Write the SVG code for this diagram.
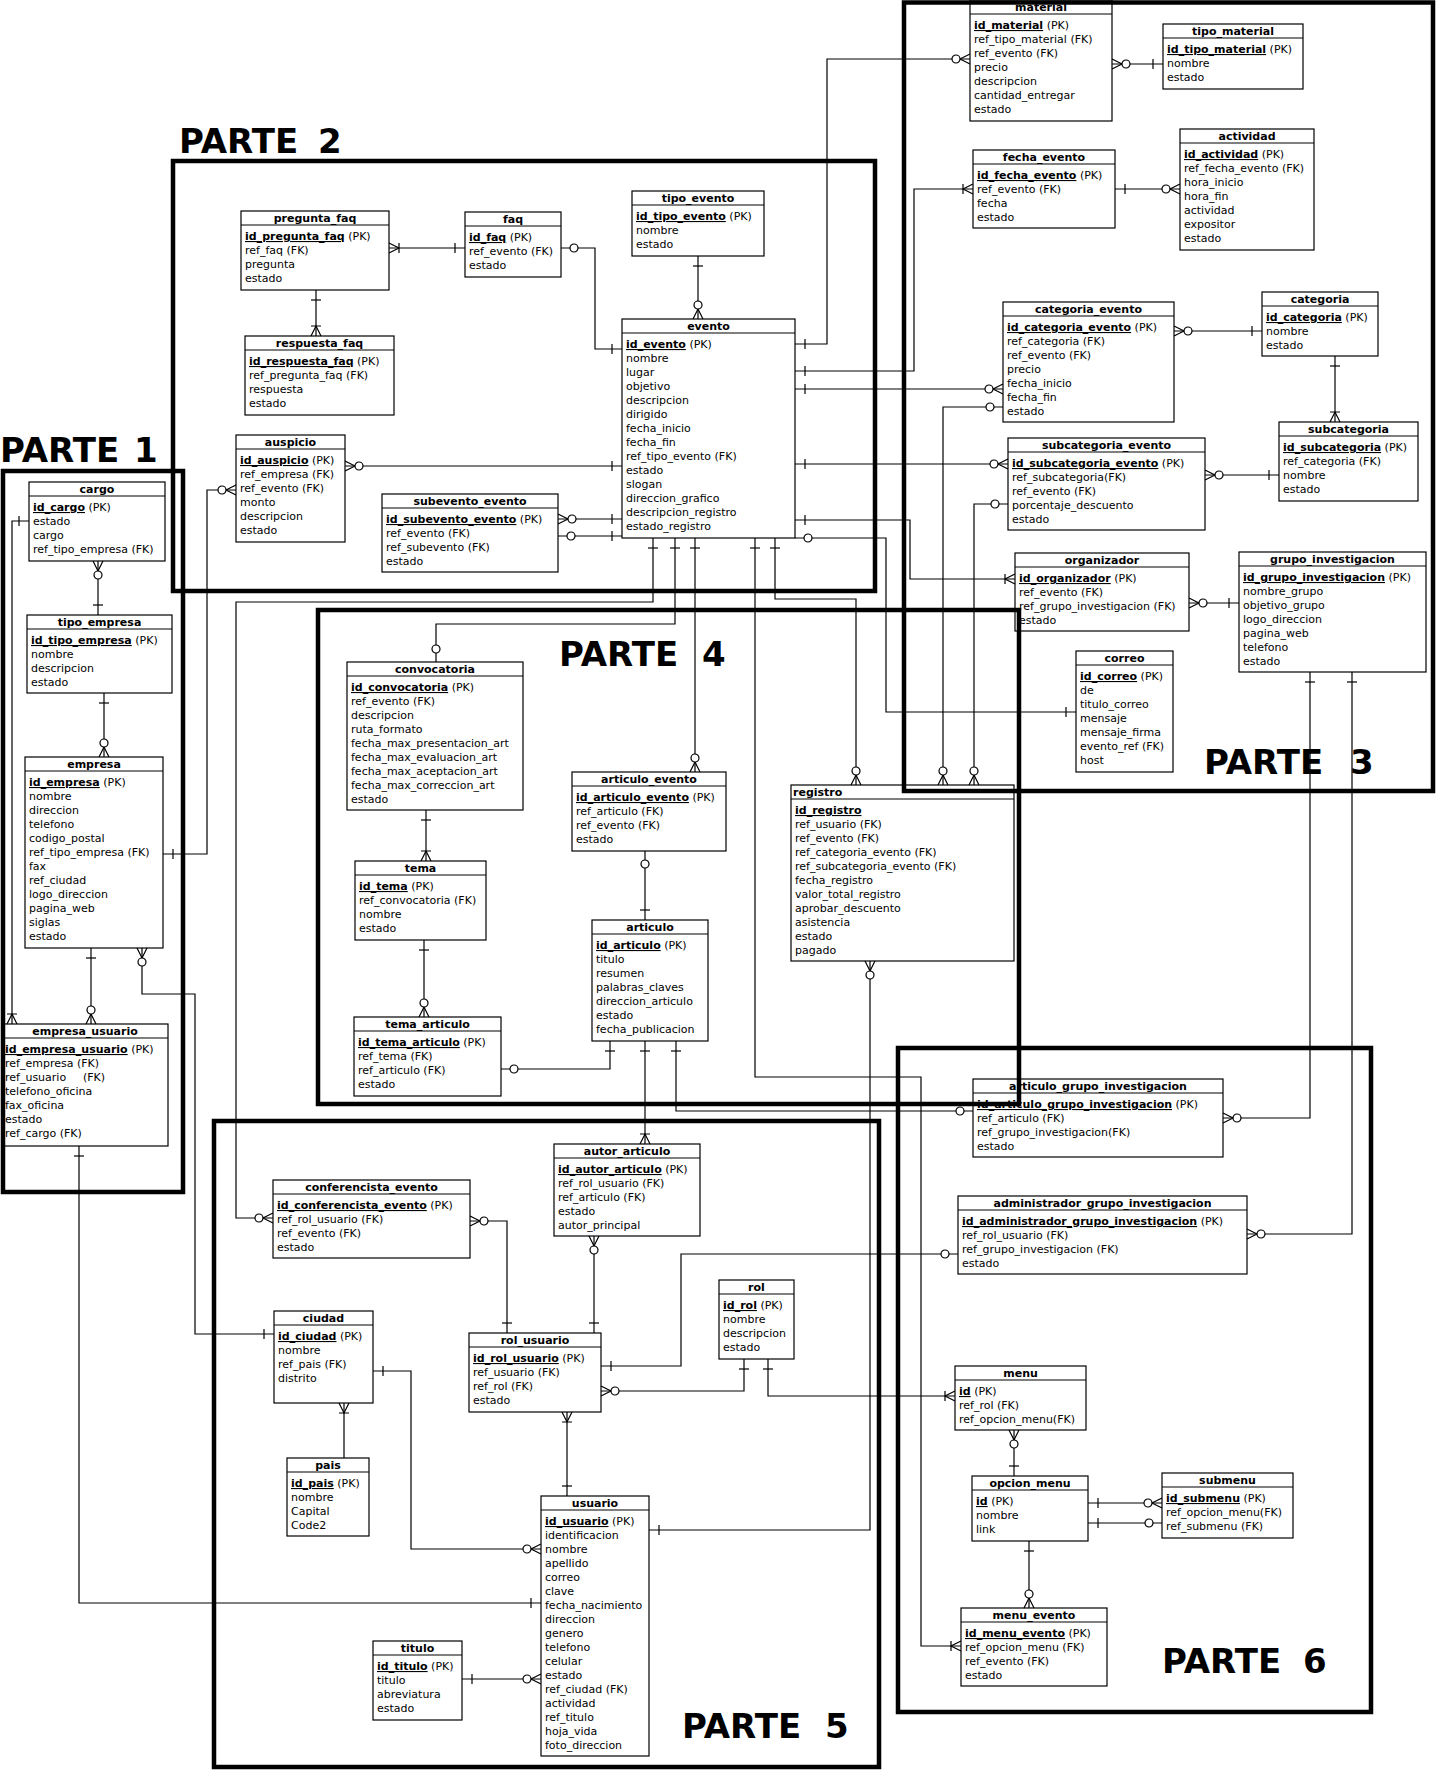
<svg xmlns="http://www.w3.org/2000/svg" xmlns:xlink="http://www.w3.org/1999/xlink" width="1436" height="1772" viewBox="0 0 1436 1772">
<style>
.bx{fill:#fff;stroke:#000;stroke-width:1.2}
.hl{stroke:#000;stroke-width:1.2}
.t{font-family:"DejaVu Sans",Verdana,sans-serif;font-size:11px;font-weight:bold;text-anchor:middle}
.tl{font-family:"DejaVu Sans",Verdana,sans-serif;font-size:11px;font-weight:bold}
.r{font-family:"DejaVu Sans",Verdana,sans-serif;font-size:11px}
.k{font-weight:bold;text-decoration:underline}
.c{fill:none;stroke:#000;stroke-width:1.2}
.s{fill:none;stroke:#000;stroke-width:1.2}
.fr{fill:none;stroke:#000;stroke-width:4.5}
.p{font-family:"DejaVu Sans",Verdana,sans-serif;font-size:34px;font-weight:bold}
</style>
<defs>
<g id="one" class="s"><path d="M10,-5V5"/></g>
<g id="zm" class="s"><path d="M0,-5L10,0L0,5"/><circle cx="14" cy="0" r="4" fill="#fff"/></g>
<g id="om" class="s"><path d="M0,-5L10,0L0,5M10,-5V5"/></g>
<g id="zo" class="s"><circle cx="13" cy="0" r="4" fill="#fff"/></g>
</defs>
<rect width="1436" height="1772" fill="#fff"/>

<g id="connectors">
<path class="c" d="M389,248H465"/>
<path class="c" d="M316,290V336"/>
<path class="c" d="M561,248H595V349H622"/>
<path class="c" d="M698,256V319"/>
<path class="c" d="M795,344H827V59H970"/>
<path class="c" d="M795,371H914V189H973"/>
<path class="c" d="M795,389H1003"/>
<path class="c" d="M943,785V407H1003"/>
<path class="c" d="M795,464H1008"/>
<path class="c" d="M974,785V504H1008"/>
<path class="c" d="M795,520H910V579H1015"/>
<path class="c" d="M795,538H886V712H1076"/>
<path class="c" d="M345,466H622"/>
<path class="c" d="M558,519H622"/>
<path class="c" d="M558,536H622"/>
<path class="c" d="M653,538V602H236V1218H273"/>
<path class="c" d="M675,538V624H436V662"/>
<path class="c" d="M695,538V772"/>
<path class="c" d="M755,538V1077H921V1646H961"/>
<path class="c" d="M775,538V599H856V785"/>
<path class="c" d="M163,854H207V490H236"/>
<path class="c" d="M98,561V615"/>
<path class="c" d="M104,693V757"/>
<path class="c" d="M91,948V1024"/>
<path class="c" d="M142,948V994H195V1334H274"/>
<path class="c" d="M29,521H12V1024"/>
<path class="c" d="M79,1146V1603H541"/>
<path class="c" d="M426,810V861"/>
<path class="c" d="M424,940V1017"/>
<path class="c" d="M501,1069H610V1041"/>
<path class="c" d="M645,851V920"/>
<path class="c" d="M645,1041V1144"/>
<path class="c" d="M676,1041V1111H973"/>
<path class="c" d="M870,961V1530H649"/>
<path class="c" d="M1112,64H1163"/>
<path class="c" d="M1115,189H1180"/>
<path class="c" d="M1174,331H1262"/>
<path class="c" d="M1335,356V422"/>
<path class="c" d="M1205,475H1279"/>
<path class="c" d="M1189,603H1239"/>
<path class="c" d="M1310,672V1118H1223"/>
<path class="c" d="M1352,672V1234H1247"/>
<path class="c" d="M958,1254H681V1366H601"/>
<path class="c" d="M768,1359V1396H955"/>
<path class="c" d="M744,1359V1391H601"/>
<path class="c" d="M1014,1430V1476"/>
<path class="c" d="M1088,1503H1162"/>
<path class="c" d="M1088,1523H1162"/>
<path class="c" d="M1029,1541V1608"/>
<path class="c" d="M470,1221H507V1333"/>
<path class="c" d="M594,1236V1333"/>
<path class="c" d="M567,1412V1496"/>
<path class="c" d="M373,1371H411V1549H541"/>
<path class="c" d="M344,1403V1458"/>
<path class="c" d="M462,1679H541"/>
</g>

<g id="tables">
<g id="pregunta_faq"><rect class="bx" x="241" y="211" width="148" height="79"/><line class="hl" x1="241" y1="225" x2="389" y2="225"/><text class="t" x="315" y="222">pregunta_faq</text><text class="r" x="245" y="240"><tspan class="k">id_pregunta_faq</tspan> (PK)<tspan x="245" dy="14">ref_faq (FK)</tspan><tspan x="245" dy="14">pregunta</tspan><tspan x="245" dy="14">estado</tspan></text></g>
<g id="respuesta_faq"><rect class="bx" x="245" y="336" width="149" height="79"/><line class="hl" x1="245" y1="350" x2="394" y2="350"/><text class="t" x="319.5" y="347">respuesta_faq</text><text class="r" x="249" y="365"><tspan class="k">id_respuesta_faq</tspan> (PK)<tspan x="249" dy="14">ref_pregunta_faq (FK)</tspan><tspan x="249" dy="14">respuesta</tspan><tspan x="249" dy="14">estado</tspan></text></g>
<g id="faq"><rect class="bx" x="465" y="212" width="96" height="65"/><line class="hl" x1="465" y1="226" x2="561" y2="226"/><text class="t" x="513" y="223">faq</text><text class="r" x="469" y="241"><tspan class="k">id_faq</tspan> (PK)<tspan x="469" dy="14">ref_evento (FK)</tspan><tspan x="469" dy="14">estado</tspan></text></g>
<g id="tipo_evento"><rect class="bx" x="632" y="191" width="132" height="65"/><line class="hl" x1="632" y1="205" x2="764" y2="205"/><text class="t" x="698" y="202">tipo_evento</text><text class="r" x="636" y="220"><tspan class="k">id_tipo_evento</tspan> (PK)<tspan x="636" dy="14">nombre</tspan><tspan x="636" dy="14">estado</tspan></text></g>
<g id="evento"><rect class="bx" x="622" y="319" width="173" height="219"/><line class="hl" x1="622" y1="333" x2="795" y2="333"/><text class="t" x="708.5" y="330">evento</text><text class="r" x="626" y="348"><tspan class="k">id_evento</tspan> (PK)<tspan x="626" dy="14">nombre</tspan><tspan x="626" dy="14">lugar</tspan><tspan x="626" dy="14">objetivo</tspan><tspan x="626" dy="14">descripcion</tspan><tspan x="626" dy="14">dirigido</tspan><tspan x="626" dy="14">fecha_inicio</tspan><tspan x="626" dy="14">fecha_fin</tspan><tspan x="626" dy="14">ref_tipo_evento (FK)</tspan><tspan x="626" dy="14">estado</tspan><tspan x="626" dy="14">slogan</tspan><tspan x="626" dy="14">direccion_grafico</tspan><tspan x="626" dy="14">descripcion_registro</tspan><tspan x="626" dy="14">estado_registro</tspan></text></g>
<g id="auspicio"><rect class="bx" x="236" y="435" width="109" height="107"/><line class="hl" x1="236" y1="449" x2="345" y2="449"/><text class="t" x="290.5" y="446">auspicio</text><text class="r" x="240" y="464"><tspan class="k">id_auspicio</tspan> (PK)<tspan x="240" dy="14">ref_empresa (FK)</tspan><tspan x="240" dy="14">ref_evento (FK)</tspan><tspan x="240" dy="14">monto</tspan><tspan x="240" dy="14">descripcion</tspan><tspan x="240" dy="14">estado</tspan></text></g>
<g id="subevento_evento"><rect class="bx" x="382" y="494" width="176" height="78"/><line class="hl" x1="382" y1="508" x2="558" y2="508"/><text class="t" x="470" y="505">subevento_evento</text><text class="r" x="386" y="523"><tspan class="k">id_subevento_evento</tspan> (PK)<tspan x="386" dy="14">ref_evento (FK)</tspan><tspan x="386" dy="14">ref_subevento (FK)</tspan><tspan x="386" dy="14">estado</tspan></text></g>
<g id="cargo"><rect class="bx" x="29" y="482" width="136" height="79"/><line class="hl" x1="29" y1="496" x2="165" y2="496"/><text class="t" x="97" y="493">cargo</text><text class="r" x="33" y="511"><tspan class="k">id_cargo</tspan> (PK)<tspan x="33" dy="14">estado</tspan><tspan x="33" dy="14">cargo</tspan><tspan x="33" dy="14">ref_tipo_empresa (FK)</tspan></text></g>
<g id="tipo_empresa"><rect class="bx" x="27" y="615" width="145" height="78"/><line class="hl" x1="27" y1="629" x2="172" y2="629"/><text class="t" x="99.5" y="626">tipo_empresa</text><text class="r" x="31" y="644"><tspan class="k">id_tipo_empresa</tspan> (PK)<tspan x="31" dy="14">nombre</tspan><tspan x="31" dy="14">descripcion</tspan><tspan x="31" dy="14">estado</tspan></text></g>
<g id="empresa"><rect class="bx" x="25" y="757" width="138" height="191"/><line class="hl" x1="25" y1="771" x2="163" y2="771"/><text class="t" x="94" y="768">empresa</text><text class="r" x="29" y="786"><tspan class="k">id_empresa</tspan> (PK)<tspan x="29" dy="14">nombre</tspan><tspan x="29" dy="14">direccion</tspan><tspan x="29" dy="14">telefono</tspan><tspan x="29" dy="14">codigo_postal</tspan><tspan x="29" dy="14">ref_tipo_empresa (FK)</tspan><tspan x="29" dy="14">fax</tspan><tspan x="29" dy="14">ref_ciudad</tspan><tspan x="29" dy="14">logo_direccion</tspan><tspan x="29" dy="14">pagina_web</tspan><tspan x="29" dy="14">siglas</tspan><tspan x="29" dy="14">estado</tspan></text></g>
<g id="empresa_usuario"><rect class="bx" x="2" y="1024" width="166" height="122"/><line class="hl" x1="2" y1="1038" x2="168" y2="1038"/><text class="t" x="85" y="1035">empresa_usuario</text><text class="r" x="5" y="1053"><tspan class="k">id_empresa_usuario</tspan> (PK)<tspan x="5" dy="14">ref_empresa (FK)</tspan><tspan x="5" dy="14">ref_usuario</tspan><tspan x="83">(FK)</tspan><tspan x="5" dy="14">telefono_oficina</tspan><tspan x="5" dy="14">fax_oficina</tspan><tspan x="5" dy="14">estado</tspan><tspan x="5" dy="14">ref_cargo (FK)</tspan></text></g>
<g id="convocatoria"><rect class="bx" x="347" y="662" width="176" height="148"/><line class="hl" x1="347" y1="676" x2="523" y2="676"/><text class="t" x="435" y="673">convocatoria</text><text class="r" x="351" y="691"><tspan class="k">id_convocatoria</tspan> (PK)<tspan x="351" dy="14">ref_evento (FK)</tspan><tspan x="351" dy="14">descripcion</tspan><tspan x="351" dy="14">ruta_formato</tspan><tspan x="351" dy="14">fecha_max_presentacion_art</tspan><tspan x="351" dy="14">fecha_max_evaluacion_art</tspan><tspan x="351" dy="14">fecha_max_aceptacion_art</tspan><tspan x="351" dy="14">fecha_max_correccion_art</tspan><tspan x="351" dy="14">estado</tspan></text></g>
<g id="tema"><rect class="bx" x="355" y="861" width="131" height="79"/><line class="hl" x1="355" y1="875" x2="486" y2="875"/><text class="t" x="420.5" y="872">tema</text><text class="r" x="359" y="890"><tspan class="k">id_tema</tspan> (PK)<tspan x="359" dy="14">ref_convocatoria (FK)</tspan><tspan x="359" dy="14">nombre</tspan><tspan x="359" dy="14">estado</tspan></text></g>
<g id="tema_articulo"><rect class="bx" x="354" y="1017" width="147" height="79"/><line class="hl" x1="354" y1="1031" x2="501" y2="1031"/><text class="t" x="427.5" y="1028">tema_articulo</text><text class="r" x="358" y="1046"><tspan class="k">id_tema_articulo</tspan> (PK)<tspan x="358" dy="14">ref_tema  (FK)</tspan><tspan x="358" dy="14">ref_articulo (FK)</tspan><tspan x="358" dy="14">estado</tspan></text></g>
<g id="articulo_evento"><rect class="bx" x="572" y="772" width="154" height="79"/><line class="hl" x1="572" y1="786" x2="726" y2="786"/><text class="t" x="649" y="783">articulo_evento</text><text class="r" x="576" y="801"><tspan class="k">id_articulo_evento</tspan> (PK)<tspan x="576" dy="14">ref_articulo (FK)</tspan><tspan x="576" dy="14">ref_evento (FK)</tspan><tspan x="576" dy="14">estado</tspan></text></g>
<g id="articulo"><rect class="bx" x="592" y="920" width="116" height="121"/><line class="hl" x1="592" y1="934" x2="708" y2="934"/><text class="t" x="650" y="931">articulo</text><text class="r" x="596" y="949"><tspan class="k">id_articulo</tspan> (PK)<tspan x="596" dy="14">titulo</tspan><tspan x="596" dy="14">resumen</tspan><tspan x="596" dy="14">palabras_claves</tspan><tspan x="596" dy="14">direccion_articulo</tspan><tspan x="596" dy="14">estado</tspan><tspan x="596" dy="14">fecha_publicacion</tspan></text></g>
<g id="registro"><rect class="bx" x="791" y="785" width="223" height="176"/><line class="hl" x1="791" y1="799" x2="1014" y2="799"/><text class="tl" x="793" y="796">registro</text><text class="r" x="795" y="814"><tspan class="k">id_registro</tspan><tspan x="795" dy="14">ref_usuario (FK)</tspan><tspan x="795" dy="14">ref_evento (FK)</tspan><tspan x="795" dy="14">ref_categoria_evento (FK)</tspan><tspan x="795" dy="14">ref_subcategoria_evento (FK)</tspan><tspan x="795" dy="14">fecha_registro</tspan><tspan x="795" dy="14">valor_total_registro</tspan><tspan x="795" dy="14">aprobar_descuento</tspan><tspan x="795" dy="14">asistencia</tspan><tspan x="795" dy="14">estado</tspan><tspan x="795" dy="14">pagado</tspan></text></g>
<g id="material"><rect class="bx" x="970" y="0" width="142" height="121"/><line class="hl" x1="970" y1="14" x2="1112" y2="14"/><text class="t" x="1041" y="11">material</text><text class="r" x="974" y="29"><tspan class="k">id_material</tspan> (PK)<tspan x="974" dy="14">ref_tipo_material (FK)</tspan><tspan x="974" dy="14">ref_evento (FK)</tspan><tspan x="974" dy="14">precio</tspan><tspan x="974" dy="14">descripcion</tspan><tspan x="974" dy="14">cantidad_entregar</tspan><tspan x="974" dy="14">estado</tspan></text></g>
<g id="tipo_material"><rect class="bx" x="1163" y="24" width="140" height="65"/><line class="hl" x1="1163" y1="38" x2="1303" y2="38"/><text class="t" x="1233" y="35">tipo_material</text><text class="r" x="1167" y="53"><tspan class="k">id_tipo_material</tspan> (PK)<tspan x="1167" dy="14">nombre</tspan><tspan x="1167" dy="14">estado</tspan></text></g>
<g id="fecha_evento"><rect class="bx" x="973" y="150" width="142" height="78"/><line class="hl" x1="973" y1="164" x2="1115" y2="164"/><text class="t" x="1044" y="161">fecha_evento</text><text class="r" x="977" y="179"><tspan class="k">id_fecha_evento</tspan> (PK)<tspan x="977" dy="14">ref_evento  (FK)</tspan><tspan x="977" dy="14">fecha</tspan><tspan x="977" dy="14">estado</tspan></text></g>
<g id="actividad"><rect class="bx" x="1180" y="129" width="134" height="121"/><line class="hl" x1="1180" y1="143" x2="1314" y2="143"/><text class="t" x="1247" y="140">actividad</text><text class="r" x="1184" y="158"><tspan class="k">id_actividad</tspan> (PK)<tspan x="1184" dy="14">ref_fecha_evento (FK)</tspan><tspan x="1184" dy="14">hora_inicio</tspan><tspan x="1184" dy="14">hora_fin</tspan><tspan x="1184" dy="14">actividad</tspan><tspan x="1184" dy="14">expositor</tspan><tspan x="1184" dy="14">estado</tspan></text></g>
<g id="categoria_evento"><rect class="bx" x="1003" y="302" width="171" height="120"/><line class="hl" x1="1003" y1="316" x2="1174" y2="316"/><text class="t" x="1088.5" y="313">categoria_evento</text><text class="r" x="1007" y="331"><tspan class="k">id_categoria_evento</tspan> (PK)<tspan x="1007" dy="14">ref_categoria (FK)</tspan><tspan x="1007" dy="14">ref_evento (FK)</tspan><tspan x="1007" dy="14">precio</tspan><tspan x="1007" dy="14">fecha_inicio</tspan><tspan x="1007" dy="14">fecha_fin</tspan><tspan x="1007" dy="14">estado</tspan></text></g>
<g id="categoria"><rect class="bx" x="1262" y="292" width="116" height="64"/><line class="hl" x1="1262" y1="306" x2="1378" y2="306"/><text class="t" x="1320" y="303">categoria</text><text class="r" x="1266" y="321"><tspan class="k">id_categoria</tspan> (PK)<tspan x="1266" dy="14">nombre</tspan><tspan x="1266" dy="14">estado</tspan></text></g>
<g id="subcategoria"><rect class="bx" x="1279" y="422" width="139" height="79"/><line class="hl" x1="1279" y1="436" x2="1418" y2="436"/><text class="t" x="1348.5" y="433">subcategoria</text><text class="r" x="1283" y="451"><tspan class="k">id_subcategoria</tspan> (PK)<tspan x="1283" dy="14">ref_categoria (FK)</tspan><tspan x="1283" dy="14">nombre</tspan><tspan x="1283" dy="14">estado</tspan></text></g>
<g id="subcategoria_evento"><rect class="bx" x="1008" y="438" width="197" height="92"/><line class="hl" x1="1008" y1="452" x2="1205" y2="452"/><text class="t" x="1106.5" y="449">subcategoria_evento</text><text class="r" x="1012" y="467"><tspan class="k">id_subcategoria_evento</tspan> (PK)<tspan x="1012" dy="14">ref_subcategoria(FK)</tspan><tspan x="1012" dy="14">ref_evento (FK)</tspan><tspan x="1012" dy="14">porcentaje_descuento</tspan><tspan x="1012" dy="14">estado</tspan></text></g>
<g id="organizador"><rect class="bx" x="1015" y="553" width="174" height="78"/><line class="hl" x1="1015" y1="567" x2="1189" y2="567"/><text class="t" x="1102" y="564">organizador</text><text class="r" x="1019" y="582"><tspan class="k">id_organizador</tspan> (PK)<tspan x="1019" dy="14">ref_evento (FK)</tspan><tspan x="1019" dy="14">ref_grupo_investigacion (FK)</tspan><tspan x="1019" dy="14">estado</tspan></text></g>
<g id="grupo_investigacion"><rect class="bx" x="1239" y="552" width="187" height="120"/><line class="hl" x1="1239" y1="566" x2="1426" y2="566"/><text class="t" x="1332.5" y="563">grupo_investigacion</text><text class="r" x="1243" y="581"><tspan class="k">id_grupo_investigacion</tspan> (PK)<tspan x="1243" dy="14">nombre_grupo</tspan><tspan x="1243" dy="14">objetivo_grupo</tspan><tspan x="1243" dy="14">logo_direccion</tspan><tspan x="1243" dy="14">pagina_web</tspan><tspan x="1243" dy="14">telefono</tspan><tspan x="1243" dy="14">estado</tspan></text></g>
<g id="correo"><rect class="bx" x="1076" y="651" width="97" height="121"/><line class="hl" x1="1076" y1="665" x2="1173" y2="665"/><text class="t" x="1124.5" y="662">correo</text><text class="r" x="1080" y="680"><tspan class="k">id_correo</tspan> (PK)<tspan x="1080" dy="14">de</tspan><tspan x="1080" dy="14">titulo_correo</tspan><tspan x="1080" dy="14">mensaje</tspan><tspan x="1080" dy="14">mensaje_firma</tspan><tspan x="1080" dy="14">evento_ref (FK)</tspan><tspan x="1080" dy="14">host</tspan></text></g>
<g id="articulo_grupo_investigacion"><rect class="bx" x="973" y="1079" width="250" height="78"/><line class="hl" x1="973" y1="1093" x2="1223" y2="1093"/><text class="t" x="1098" y="1090">articulo_grupo_investigacion</text><text class="r" x="977" y="1108"><tspan class="k">id_articulo_grupo_investigacion</tspan> (PK)<tspan x="977" dy="14">ref_articulo (FK)</tspan><tspan x="977" dy="14">ref_grupo_investigacion(FK)</tspan><tspan x="977" dy="14">estado</tspan></text></g>
<g id="administrador_grupo_investigacion"><rect class="bx" x="958" y="1196" width="289" height="78"/><line class="hl" x1="958" y1="1210" x2="1247" y2="1210"/><text class="t" x="1102.5" y="1207">administrador_grupo_investigacion</text><text class="r" x="962" y="1225"><tspan class="k">id_administrador_grupo_investigacion</tspan> (PK)<tspan x="962" dy="14">ref_rol_usuario (FK)</tspan><tspan x="962" dy="14">ref_grupo_investigacion (FK)</tspan><tspan x="962" dy="14">estado</tspan></text></g>
<g id="menu"><rect class="bx" x="955" y="1366" width="131" height="64"/><line class="hl" x1="955" y1="1380" x2="1086" y2="1380"/><text class="t" x="1020.5" y="1377">menu</text><text class="r" x="959" y="1395"><tspan class="k">id</tspan> (PK)<tspan x="959" dy="14">ref_rol (FK)</tspan><tspan x="959" dy="14">ref_opcion_menu(FK)</tspan></text></g>
<g id="opcion_menu"><rect class="bx" x="972" y="1476" width="116" height="65"/><line class="hl" x1="972" y1="1490" x2="1088" y2="1490"/><text class="t" x="1030" y="1487">opcion_menu</text><text class="r" x="976" y="1505"><tspan class="k">id</tspan> (PK)<tspan x="976" dy="14">nombre</tspan><tspan x="976" dy="14">link</tspan></text></g>
<g id="submenu"><rect class="bx" x="1162" y="1473" width="131" height="65"/><line class="hl" x1="1162" y1="1487" x2="1293" y2="1487"/><text class="t" x="1227.5" y="1484">submenu</text><text class="r" x="1166" y="1502"><tspan class="k">id_submenu</tspan> (PK)<tspan x="1166" dy="14">ref_opcion_menu(FK)</tspan><tspan x="1166" dy="14">ref_submenu (FK)</tspan></text></g>
<g id="menu_evento"><rect class="bx" x="961" y="1608" width="146" height="78"/><line class="hl" x1="961" y1="1622" x2="1107" y2="1622"/><text class="t" x="1034" y="1619">menu_evento</text><text class="r" x="965" y="1637"><tspan class="k">id_menu_evento</tspan> (PK)<tspan x="965" dy="14">ref_opcion_menu (FK)</tspan><tspan x="965" dy="14">ref_evento (FK)</tspan><tspan x="965" dy="14">estado</tspan></text></g>
<g id="conferencista_evento"><rect class="bx" x="273" y="1180" width="197" height="78"/><line class="hl" x1="273" y1="1194" x2="470" y2="1194"/><text class="t" x="371.5" y="1191">conferencista_evento</text><text class="r" x="277" y="1209"><tspan class="k">id_conferencista_evento</tspan> (PK)<tspan x="277" dy="14">ref_rol_usuario (FK)</tspan><tspan x="277" dy="14">ref_evento (FK)</tspan><tspan x="277" dy="14">estado</tspan></text></g>
<g id="autor_articulo"><rect class="bx" x="554" y="1144" width="146" height="92"/><line class="hl" x1="554" y1="1158" x2="700" y2="1158"/><text class="t" x="627" y="1155">autor_articulo</text><text class="r" x="558" y="1173"><tspan class="k">id_autor_articulo</tspan> (PK)<tspan x="558" dy="14">ref_rol_usuario (FK)</tspan><tspan x="558" dy="14">ref_articulo (FK)</tspan><tspan x="558" dy="14">estado</tspan><tspan x="558" dy="14">autor_principal</tspan></text></g>
<g id="rol"><rect class="bx" x="719" y="1280" width="75" height="79"/><line class="hl" x1="719" y1="1294" x2="794" y2="1294"/><text class="t" x="756.5" y="1291">rol</text><text class="r" x="723" y="1309"><tspan class="k">id_rol</tspan> (PK)<tspan x="723" dy="14">nombre</tspan><tspan x="723" dy="14">descripcion</tspan><tspan x="723" dy="14">estado</tspan></text></g>
<g id="rol_usuario"><rect class="bx" x="469" y="1333" width="132" height="79"/><line class="hl" x1="469" y1="1347" x2="601" y2="1347"/><text class="t" x="535" y="1344">rol_usuario</text><text class="r" x="473" y="1362"><tspan class="k">id_rol_usuario</tspan> (PK)<tspan x="473" dy="14">ref_usuario (FK)</tspan><tspan x="473" dy="14">ref_rol (FK)</tspan><tspan x="473" dy="14">estado</tspan></text></g>
<g id="usuario"><rect class="bx" x="541" y="1496" width="108" height="260"/><line class="hl" x1="541" y1="1510" x2="649" y2="1510"/><text class="t" x="595" y="1507">usuario</text><text class="r" x="545" y="1525"><tspan class="k">id_usuario</tspan> (PK)<tspan x="545" dy="14">identificacion</tspan><tspan x="545" dy="14">nombre</tspan><tspan x="545" dy="14">apellido</tspan><tspan x="545" dy="14">correo</tspan><tspan x="545" dy="14">clave</tspan><tspan x="545" dy="14">fecha_nacimiento</tspan><tspan x="545" dy="14">direccion</tspan><tspan x="545" dy="14">genero</tspan><tspan x="545" dy="14">telefono</tspan><tspan x="545" dy="14">celular</tspan><tspan x="545" dy="14">estado</tspan><tspan x="545" dy="14">ref_ciudad (FK)</tspan><tspan x="545" dy="14">actividad</tspan><tspan x="545" dy="14">ref_titulo</tspan><tspan x="545" dy="14">hoja_vida</tspan><tspan x="545" dy="14">foto_direccion</tspan></text></g>
<g id="ciudad"><rect class="bx" x="274" y="1311" width="99" height="92"/><line class="hl" x1="274" y1="1325" x2="373" y2="1325"/><text class="t" x="323.5" y="1322">ciudad</text><text class="r" x="278" y="1340"><tspan class="k">id_ciudad</tspan> (PK)<tspan x="278" dy="14">nombre</tspan><tspan x="278" dy="14">ref_pais (FK)</tspan><tspan x="278" dy="14">distrito</tspan></text></g>
<g id="pais"><rect class="bx" x="287" y="1458" width="82" height="78"/><line class="hl" x1="287" y1="1472" x2="369" y2="1472"/><text class="t" x="328" y="1469">pais</text><text class="r" x="291" y="1487"><tspan class="k">id_pais</tspan> (PK)<tspan x="291" dy="14">nombre</tspan><tspan x="291" dy="14">Capital</tspan><tspan x="291" dy="14">Code2</tspan></text></g>
<g id="titulo"><rect class="bx" x="373" y="1641" width="89" height="79"/><line class="hl" x1="373" y1="1655" x2="462" y2="1655"/><text class="t" x="417.5" y="1652">titulo</text><text class="r" x="377" y="1670"><tspan class="k">id_titulo</tspan> (PK)<tspan x="377" dy="14">titulo</tspan><tspan x="377" dy="14">abreviatura</tspan><tspan x="377" dy="14">estado</tspan></text></g>
</g>

<g id="ends">
<use href="#om" transform="translate(389,248)"/>
<use href="#one" transform="translate(465,248) rotate(180)"/>
<use href="#one" transform="translate(316,290) rotate(90)"/>
<use href="#om" transform="translate(316,336) rotate(-90)"/>
<use href="#zo" transform="translate(561,248)"/>
<use href="#one" transform="translate(622,349) rotate(180)"/>
<use href="#one" transform="translate(698,256) rotate(90)"/>
<use href="#zm" transform="translate(698,319) rotate(-90)"/>
<use href="#one" transform="translate(795,344)"/>
<use href="#zm" transform="translate(970,59) rotate(180)"/>
<use href="#one" transform="translate(795,371)"/>
<use href="#om" transform="translate(973,189) rotate(180)"/>
<use href="#one" transform="translate(795,389)"/>
<use href="#zm" transform="translate(1003,389) rotate(180)"/>
<use href="#zm" transform="translate(943,785) rotate(-90)"/>
<use href="#zo" transform="translate(1003,407) rotate(180)"/>
<use href="#one" transform="translate(795,464)"/>
<use href="#zm" transform="translate(1008,464) rotate(180)"/>
<use href="#zm" transform="translate(974,785) rotate(-90)"/>
<use href="#zo" transform="translate(1008,504) rotate(180)"/>
<use href="#one" transform="translate(795,520)"/>
<use href="#om" transform="translate(1015,579) rotate(180)"/>
<use href="#zo" transform="translate(795,538)"/>
<use href="#one" transform="translate(1076,712) rotate(180)"/>
<use href="#zm" transform="translate(345,466)"/>
<use href="#one" transform="translate(622,466) rotate(180)"/>
<use href="#zm" transform="translate(558,519)"/>
<use href="#one" transform="translate(622,519) rotate(180)"/>
<use href="#zo" transform="translate(558,536)"/>
<use href="#one" transform="translate(622,536) rotate(180)"/>
<use href="#one" transform="translate(653,538) rotate(90)"/>
<use href="#zm" transform="translate(273,1218) rotate(180)"/>
<use href="#one" transform="translate(675,538) rotate(90)"/>
<use href="#zo" transform="translate(436,662) rotate(-90)"/>
<use href="#one" transform="translate(695,538) rotate(90)"/>
<use href="#zm" transform="translate(695,772) rotate(-90)"/>
<use href="#one" transform="translate(755,538) rotate(90)"/>
<use href="#om" transform="translate(961,1646) rotate(180)"/>
<use href="#one" transform="translate(775,538) rotate(90)"/>
<use href="#zm" transform="translate(856,785) rotate(-90)"/>
<use href="#one" transform="translate(163,854)"/>
<use href="#zm" transform="translate(236,490) rotate(180)"/>
<use href="#zm" transform="translate(98,561) rotate(90)"/>
<use href="#one" transform="translate(98,615) rotate(-90)"/>
<use href="#one" transform="translate(104,693) rotate(90)"/>
<use href="#zm" transform="translate(104,757) rotate(-90)"/>
<use href="#one" transform="translate(91,948) rotate(90)"/>
<use href="#zm" transform="translate(91,1024) rotate(-90)"/>
<use href="#zm" transform="translate(142,948) rotate(90)"/>
<use href="#one" transform="translate(274,1334) rotate(180)"/>
<use href="#one" transform="translate(29,521) rotate(180)"/>
<use href="#om" transform="translate(12,1024) rotate(-90)"/>
<use href="#one" transform="translate(79,1146) rotate(90)"/>
<use href="#one" transform="translate(541,1603) rotate(180)"/>
<use href="#one" transform="translate(426,810) rotate(90)"/>
<use href="#om" transform="translate(426,861) rotate(-90)"/>
<use href="#one" transform="translate(424,940) rotate(90)"/>
<use href="#zm" transform="translate(424,1017) rotate(-90)"/>
<use href="#zo" transform="translate(501,1069)"/>
<use href="#one" transform="translate(610,1041) rotate(90)"/>
<use href="#zo" transform="translate(645,851) rotate(90)"/>
<use href="#one" transform="translate(645,920) rotate(-90)"/>
<use href="#one" transform="translate(645,1041) rotate(90)"/>
<use href="#om" transform="translate(645,1144) rotate(-90)"/>
<use href="#one" transform="translate(676,1041) rotate(90)"/>
<use href="#zo" transform="translate(973,1111) rotate(180)"/>
<use href="#zm" transform="translate(870,961) rotate(90)"/>
<use href="#one" transform="translate(649,1530)"/>
<use href="#zm" transform="translate(1112,64)"/>
<use href="#one" transform="translate(1163,64) rotate(180)"/>
<use href="#one" transform="translate(1115,189)"/>
<use href="#zm" transform="translate(1180,189) rotate(180)"/>
<use href="#zm" transform="translate(1174,331)"/>
<use href="#one" transform="translate(1262,331) rotate(180)"/>
<use href="#one" transform="translate(1335,356) rotate(90)"/>
<use href="#om" transform="translate(1335,422) rotate(-90)"/>
<use href="#zm" transform="translate(1205,475)"/>
<use href="#one" transform="translate(1279,475) rotate(180)"/>
<use href="#zm" transform="translate(1189,603)"/>
<use href="#one" transform="translate(1239,603) rotate(180)"/>
<use href="#one" transform="translate(1310,672) rotate(90)"/>
<use href="#zm" transform="translate(1223,1118)"/>
<use href="#one" transform="translate(1352,672) rotate(90)"/>
<use href="#zm" transform="translate(1247,1234)"/>
<use href="#zo" transform="translate(958,1254) rotate(180)"/>
<use href="#one" transform="translate(601,1366)"/>
<use href="#one" transform="translate(768,1359) rotate(90)"/>
<use href="#om" transform="translate(955,1396) rotate(180)"/>
<use href="#one" transform="translate(744,1359) rotate(90)"/>
<use href="#zm" transform="translate(601,1391)"/>
<use href="#zm" transform="translate(1014,1430) rotate(90)"/>
<use href="#one" transform="translate(1014,1476) rotate(-90)"/>
<use href="#one" transform="translate(1088,1503)"/>
<use href="#zm" transform="translate(1162,1503) rotate(180)"/>
<use href="#one" transform="translate(1088,1523)"/>
<use href="#zo" transform="translate(1162,1523) rotate(180)"/>
<use href="#one" transform="translate(1029,1541) rotate(90)"/>
<use href="#zm" transform="translate(1029,1608) rotate(-90)"/>
<use href="#zm" transform="translate(470,1221)"/>
<use href="#one" transform="translate(507,1333) rotate(-90)"/>
<use href="#zm" transform="translate(594,1236) rotate(90)"/>
<use href="#one" transform="translate(594,1333) rotate(-90)"/>
<use href="#om" transform="translate(567,1412) rotate(90)"/>
<use href="#one" transform="translate(567,1496) rotate(-90)"/>
<use href="#one" transform="translate(373,1371)"/>
<use href="#zm" transform="translate(541,1549) rotate(180)"/>
<use href="#om" transform="translate(344,1403) rotate(90)"/>
<use href="#one" transform="translate(462,1679)"/>
<use href="#zm" transform="translate(541,1679) rotate(180)"/>
</g>

<g id="frames">
<rect class="fr" x="3" y="471" width="180" height="721"/>
<rect class="fr" x="173" y="161" width="702" height="430"/>
<rect class="fr" x="904" y="2.5" width="529" height="788.5"/>
<rect class="fr" x="318" y="610" width="701" height="494"/>
<rect class="fr" x="214" y="1121" width="665" height="646"/>
<rect class="fr" x="898" y="1048" width="473" height="664"/>
<text class="p" x="0" y="462">PARTE<tspan x="134">1</tspan></text>
<text class="p" x="179" y="153">PARTE<tspan x="318">2</tspan></text>
<text class="p" x="1204" y="774">PARTE<tspan x="1350">3</tspan></text>
<text class="p" x="559" y="666">PARTE<tspan x="702">4</tspan></text>
<text class="p" x="682" y="1738">PARTE<tspan x="825">5</tspan></text>
<text class="p" x="1162" y="1673">PARTE<tspan x="1303">6</tspan></text>
</g>
</svg>
